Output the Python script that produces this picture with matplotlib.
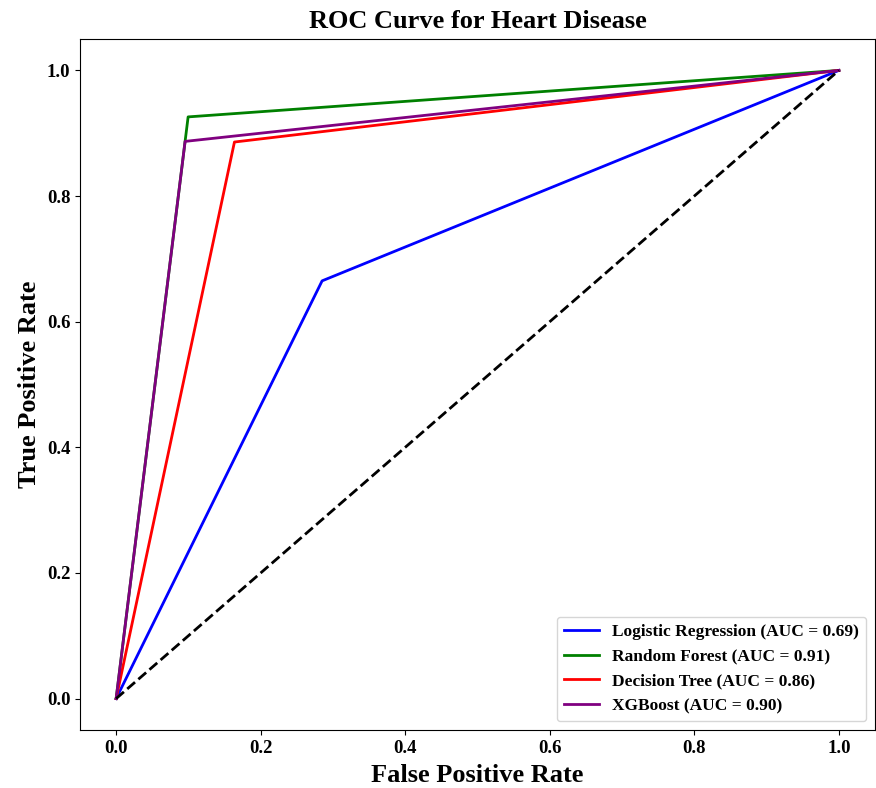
import numpy as np
import matplotlib.pyplot as plt

plt.rcParams['font.family'] = ['Liberation Serif', 'DejaVu Serif']
plt.rcParams['font.weight'] = 'bold'

models = ['Logistic Regression', 'Random Forest', 'Decision Tree', 'XGBoost']
colors = ['blue', 'green', 'red', 'purple']
aucs = [0.69, 0.91, 0.86, 0.90]
fprs = [[0.0, 0.285, 1.0],
        [0.0, 0.0996, 1.0],
        [0.0, 0.1637, 1.0],
        [0.0, 0.0954, 1.0]]
tprs = [[0.0, 0.665, 1.0],
        [0.0, 0.926, 1.0],
        [0.0, 0.886, 1.0],
        [0.0, 0.887, 1.0]]

fig = plt.figure(figsize=(8.76, 7.88), dpi=100)
ax = fig.add_axes([80/876, 58/788, 795/876, 691/788])

for name, c, a, f, t in zip(models, colors, aucs, fprs, tprs):
    ax.plot(f, t, color=c, lw=2, label=f'{name} (AUC = {a:.2f})')
ax.plot([0, 1], [0, 1], 'k--', lw=2)

ax.set_xlabel('False Positive Rate', fontsize=19, fontweight='bold', labelpad=5)
ax.set_ylabel('True Positive Rate', fontsize=19, fontweight='bold')
ax.set_title('ROC Curve for Heart Disease', fontsize=19, fontweight='bold', pad=8)
ax.tick_params(labelsize=13.5)
ax.legend(loc='lower right', fontsize=12.5)

fig.savefig('out.png')
